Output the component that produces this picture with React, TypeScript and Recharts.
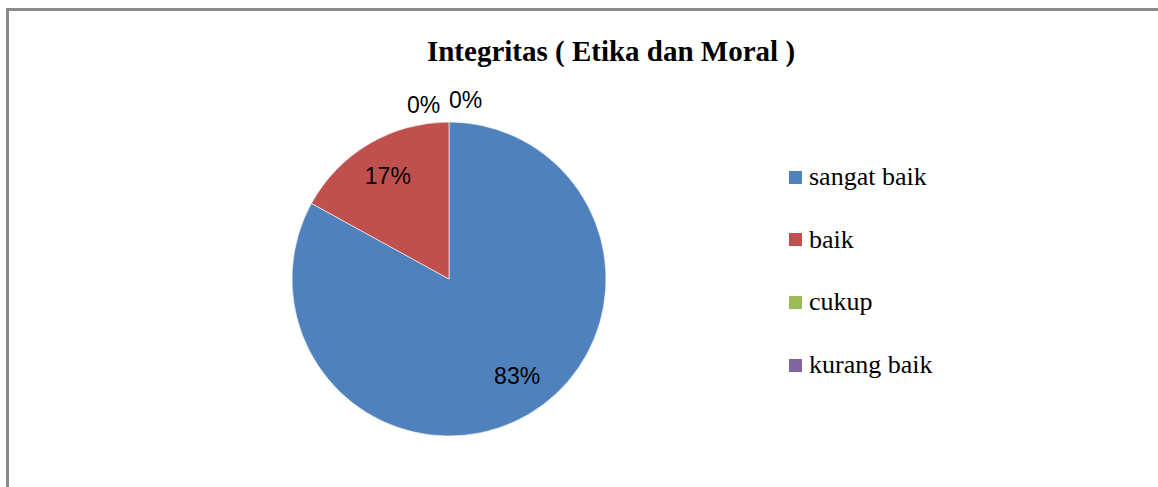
import React from "react";
import { PieChart, Pie, Cell, Legend } from "recharts";

const categories = ["sangat baik", "baik", "cukup", "kurang baik"];
const values = [83, 17, 0, 0];
const colors = ["#4F81BD", "#C0504D", "#9BBB59", "#8064A2"];
const title = "Integritas ( Etika dan Moral )";

const data = categories.map((name, i) => ({ name, value: values[i] }));

const RAD = Math.PI / 180;
const zeroOffsets = [
  { dx: -25.5, dr: 17 },
  { dx: 16.5, dr: 22.5 },
];
const innerShift = [
  { dx: 7, dy: -6 },
  { dx: 0, dy: 0 },
];

const renderLabel = (props: any) => {
  const { cx, cy, midAngle, outerRadius, percent, index } = props;
  let x: number;
  let y: number;
  if (percent > 0) {
    const r = outerRadius * 0.765;
    const s = innerShift[index] || { dx: 0, dy: 0 };
    x = cx + r * Math.cos(-midAngle * RAD) + s.dx;
    y = cy + r * Math.sin(-midAngle * RAD) + s.dy;
  } else {
    const k = Math.max(0, index - 2) % zeroOffsets.length;
    const o = zeroOffsets[k];
    const r = outerRadius + o.dr;
    x = cx + r * Math.cos(-midAngle * RAD) + o.dx;
    y = cy + r * Math.sin(-midAngle * RAD);
  }
  return (
    <text
      x={x}
      y={y}
      textAnchor="middle"
      dominantBaseline="central"
      fill="#000"
      style={{ fontFamily: "'Liberation Sans', Arial, sans-serif", fontSize: 23 }}
    >
      {`${Math.round(percent * 100)}%`}
    </text>
  );
};

const renderLegend = () => (
  <div style={{ fontFamily: "'Liberation Serif', 'Times New Roman', serif", fontSize: 26, color: "#000" }}>
    {categories.map((c, i) => (
      <div key={c} style={{ height: 62.6, display: "flex", alignItems: "center" }}>
        <span style={{ display: "inline-block", width: 13, height: 13, background: colors[i], marginRight: 7 }} />
        <span>{c}</span>
      </div>
    ))}
  </div>
);

export default function App() {
  return (
    <div
      style={{
        position: "absolute",
        left: 6,
        top: 8,
        width: 1149,
        height: 476,
        borderTop: "3px solid #8a8a8a",
        borderLeft: "3px solid #8a8a8a",
        background: "#fff",
      }}
    >
      <div
        style={{
          position: "absolute",
          left: 0,
          width: 1204,
          top: 23,
          textAlign: "center",
          fontFamily: "'Liberation Serif', 'Times New Roman', serif",
          fontWeight: "bold",
          fontSize: 29,
          lineHeight: "34px",
          color: "#000",
        }}
      >
        {title}
      </div>
      <PieChart width={1149} height={476} margin={{ top: 0, right: 0, bottom: 0, left: 0 }}>
        <Pie
          data={data}
          dataKey="value"
          nameKey="name"
          cx={440}
          cy={268}
          outerRadius={157}
          startAngle={90}
          endAngle={-270}
          stroke="#ffffff"
          strokeWidth={0.6}
          label={renderLabel}
          labelLine={false}
          isAnimationActive={false}
        >
          {data.map((d, i) => (
            <Cell key={d.name} fill={colors[i]} />
          ))}
        </Pie>
        <Legend
          content={renderLegend}
          layout="vertical"
          wrapperStyle={{ position: "absolute", left: 780, top: 135, width: 300 }}
        />
      </PieChart>
    </div>
  );
}
